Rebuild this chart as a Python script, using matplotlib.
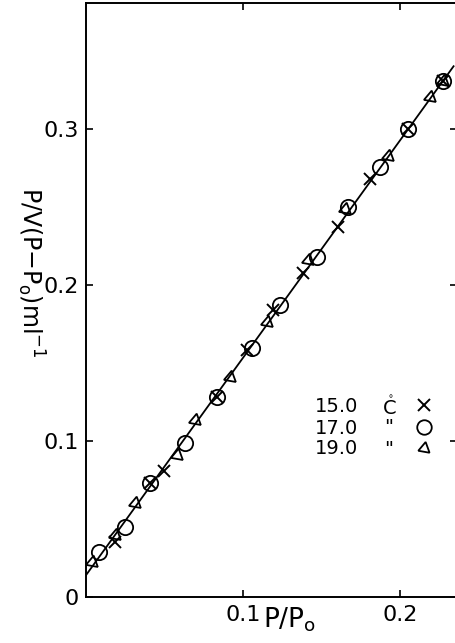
import numpy as np
import matplotlib
matplotlib.use("Agg")
import matplotlib.pyplot as plt

# P/Po values and P/V(P-Po) values, one pair of lists per temperature
x_15 = [0.0185, 0.0408, 0.0497, 0.0834, 0.1025, 0.119, 0.138, 0.1605, 0.181, 0.205, 0.2274]
y_15 = [0.035, 0.0732, 0.0805, 0.128, 0.1586, 0.184, 0.2075, 0.2376, 0.268, 0.300, 0.331]

x_17 = [0.0083, 0.0248, 0.0408, 0.063, 0.0834, 0.1057, 0.1236, 0.147, 0.1669, 0.1873, 0.205, 0.2274]
y_17 = [0.0289, 0.045, 0.0732, 0.099, 0.128, 0.160, 0.1875, 0.218, 0.250, 0.276, 0.300, 0.331]

x_19 = [0.0038, 0.0185, 0.0312, 0.058, 0.0694, 0.0917, 0.115, 0.1414, 0.165, 0.1924, 0.219, 0.2274]
y_19 = [0.0225, 0.040, 0.0604, 0.091, 0.1137, 0.141, 0.1766, 0.2164, 0.249, 0.2826, 0.3205, 0.331]

temps = ["15.0", "17.0", "19.0"]
units = ["$\\mathring{\\mathrm{C}}$", '"', '"']

# straight line through the points
intercept = 0.014
slope = 1.395
line_x = [0.0, 0.234]

W, H = 456, 643
fig = plt.figure(figsize=(W / 100, H / 100), dpi=100)
# right spine sits just outside the picture, like in the scan
ax = fig.add_axes([86 / W, 46 / H, (457.5 - 86) / W, 594 / H])

line_y = [intercept + slope * v for v in line_x]
ax.plot(line_x, line_y, color="black", lw=1.3, zorder=2)

h15, = ax.plot(x_15, y_15, ls="none", marker="x", ms=9, mew=1.4, color="black", zorder=3)
h17, = ax.plot(x_17, y_17, ls="none", marker="o", ms=11, mew=1.3, mfc="none", mec="black", zorder=3)
h19, = ax.plot(x_19, y_19, ls="none", marker=(3, 0, 110), ms=10, mew=1.3, mfc="none", mec="black", zorder=3)

ax.set_xlim(0, 0.2365)
ax.set_ylim(0, 0.381)

ax.set_xticks([0.1, 0.2])
ax.set_xticklabels(["0.1", "0.2"])
ax.set_yticks([0, 0.1, 0.2, 0.3])
ax.set_yticklabels(["0", "0.1", "0.2", "0.3"])
ax.tick_params(direction="in", length=5, width=1.2, labelsize=16, top=True, right=True)
ax.tick_params(axis="y", pad=5)
ax.tick_params(axis="x", pad=6)
for sp in ax.spines.values():
    sp.set_linewidth(1.4)

# legend: text columns drawn as text, symbols from the legend
row_y = [407, 428, 449]
for t, u, yy in zip(temps, units, row_y):
    fig.text(315 / W, 1 - yy / H, t, fontsize=14, ha="left", va="center")
    fig.text(389 / W, 1 - yy / H, u, fontsize=14, ha="center", va="center")
ax.legend([h15, h17, h19], ["", "", ""], frameon=False, loc="center",
          bbox_to_anchor=(424 / W, 1 - 428 / H), bbox_transform=fig.transFigure,
          borderpad=0, borderaxespad=0, markerscale=0.95,
          fontsize=14, labelspacing=0.12, handlelength=1.0, handletextpad=0.0)

fig.text(263 / W, 1 - 628 / H, "P/P$_\\mathregular{o}$", fontsize=19,
         ha="left", va="baseline")
fig.text(31 / W, 1 - 272 / H, "P/V(P$-$P$_\\mathregular{o}$)ml$^{-1}$", fontsize=17,
         rotation=270, ha="center", va="center")

fig.savefig("out.png", dpi=100)
